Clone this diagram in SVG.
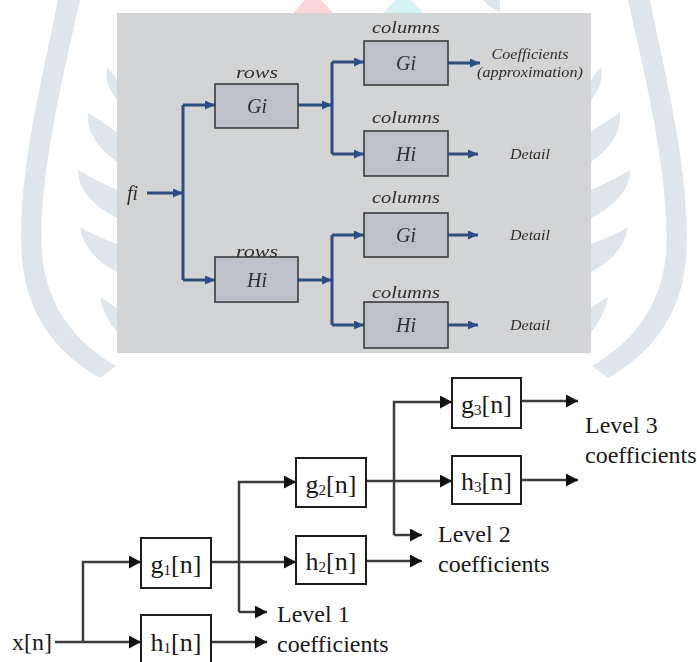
<svg xmlns="http://www.w3.org/2000/svg" width="697" height="662" viewBox="0 0 697 662">
<defs>
<style>
.wm{fill:#dfe6eb}
.panel{fill:#d3d4d6}
.tb{fill:#bcc1ca;stroke:#3c3c3c;stroke-width:1.6}
.tl{fill:none;stroke:#2c4d82;stroke-width:3}
.ti{font-family:'Liberation Serif','Times New Roman',serif;font-style:italic;fill:#2e2e2e}
.bb{fill:#fff;stroke:#1e1e1e;stroke-width:2}
.bl{fill:none;stroke:#3c3c3c;stroke-width:2.5}
.bt{font-family:'Liberation Serif','Times New Roman',serif;font-size:26px;fill:#1a1a1a}
.lt{font-family:'Liberation Serif','Times New Roman',serif;font-size:24px;fill:#1a1a1a}
</style>
<marker id="ab" markerUnits="userSpaceOnUse" viewBox="0 0 12 13" refX="12" refY="6.5" markerWidth="12" markerHeight="13" orient="auto"><path d="M0,0 L12,6.5 L0,13 Z" fill="#111"/></marker>
<marker id="at" markerUnits="userSpaceOnUse" viewBox="0 0 10 9" refX="10" refY="4.5" markerWidth="10" markerHeight="9" orient="auto"><path d="M0,0 L10,4.5 L0,9 Z" fill="#2c4d82"/></marker>
<filter id="soft" x="-5%" y="-5%" width="110%" height="110%"><feGaussianBlur stdDeviation="0.5"/></filter>
<g id="wmside">
<path class="wm" d="M58,0 C42,80 16,180 22,260 C28,320 60,355 100,378 L116,366 C80,345 46,310 42,252 C38,180 62,80 80,0 Z"/>
<path class="wm" d="M107,67 Q104,85 117,100 L117,80 Q112,72 107,67 Z"/>
<path class="wm" d="M88,113 Q86,140 117,162 L117,132 Q100,120 88,113 Z"/>
<path class="wm" d="M78,170 Q78,198 117,218 L117,190 Q95,180 78,170 Z"/>
<path class="wm" d="M80,227 Q84,255 117,272 L117,244 Q95,236 80,227 Z"/>
<path class="wm" d="M100,297 Q104,318 117,332 L117,308 Q108,302 100,297 Z"/>
</g>
</defs>

<g id="watermark">
<use href="#wmside"/>
<use href="#wmside" transform="translate(708,0) scale(-1,1)"/>
<polygon points="305,0 321,0 333,13 293,13" fill="#fbd6d9"/>
<polygon points="395,0 411,0 423,13 383,13" fill="#d6f4f7"/>
<path d="M483,0 L500,0 L500,12 Q490,8 483,0 Z" class="wm"/>
</g>

<g id="top-panel" filter="url(#soft)">
<rect class="panel" x="117" y="13" width="474" height="340"/>

<g id="top-connectors">
<path class="tl" d="M147,193 H183" marker-end="url(#at)"/>
<path class="tl" d="M183,105 V280"/>
<path class="tl" d="M183,105 H215" marker-end="url(#at)"/>
<path class="tl" d="M183,280 H215" marker-end="url(#at)"/>
<path class="tl" d="M298,105 H332" marker-end="url(#at)"/>
<path class="tl" d="M332,62 V154"/>
<path class="tl" d="M332,62 H364" marker-end="url(#at)"/>
<path class="tl" d="M332,154 H364" marker-end="url(#at)"/>
<path class="tl" d="M298,280 H332" marker-end="url(#at)"/>
<path class="tl" d="M332,235 V325"/>
<path class="tl" d="M332,235 H364" marker-end="url(#at)"/>
<path class="tl" d="M332,325 H364" marker-end="url(#at)"/>
<path class="tl" d="M448,63 H480" marker-end="url(#at)"/>
<path class="tl" d="M448,154 H478" marker-end="url(#at)"/>
<path class="tl" d="M448,235 H478" marker-end="url(#at)"/>
<path class="tl" d="M448,325 H478" marker-end="url(#at)"/>
</g>

<text class="ti" x="127" y="200" font-size="20">fi</text>

<g id="rows-gi">
<rect class="tb" x="215" y="84" width="83" height="44"/>
<text class="ti" x="257" y="78" font-size="17" text-anchor="middle" textLength="42" lengthAdjust="spacingAndGlyphs">rows</text>
<text class="ti" x="257" y="113" font-size="20" text-anchor="middle">Gi</text>
</g>
<g id="rows-hi">
<rect class="tb" x="215" y="257" width="83" height="45"/>
<text class="ti" x="257" y="257" font-size="17" text-anchor="middle" textLength="42" lengthAdjust="spacingAndGlyphs">rows</text>
<text class="ti" x="257" y="287" font-size="20" text-anchor="middle">Hi</text>
</g>
<g id="col-gi-1">
<rect class="tb" x="364" y="41" width="84" height="44"/>
<text class="ti" x="406" y="33" font-size="17" text-anchor="middle" textLength="68" lengthAdjust="spacingAndGlyphs">columns</text>
<text class="ti" x="406" y="70" font-size="20" text-anchor="middle">Gi</text>
</g>
<g id="col-hi-1">
<rect class="tb" x="364" y="131" width="84" height="45"/>
<text class="ti" x="406" y="123" font-size="17" text-anchor="middle" textLength="68" lengthAdjust="spacingAndGlyphs">columns</text>
<text class="ti" x="406" y="161" font-size="20" text-anchor="middle">Hi</text>
</g>
<g id="col-gi-2">
<rect class="tb" x="364" y="213" width="84" height="44"/>
<text class="ti" x="406" y="203" font-size="17" text-anchor="middle" textLength="68" lengthAdjust="spacingAndGlyphs">columns</text>
<text class="ti" x="406" y="242" font-size="20" text-anchor="middle">Gi</text>
</g>
<g id="col-hi-2">
<rect class="tb" x="364" y="302" width="84" height="46"/>
<text class="ti" x="406" y="298" font-size="17" text-anchor="middle" textLength="68" lengthAdjust="spacingAndGlyphs">columns</text>
<text class="ti" x="406" y="332" font-size="20" text-anchor="middle">Hi</text>
</g>

<text class="ti" x="530" y="59" font-size="14" text-anchor="middle" textLength="77" lengthAdjust="spacingAndGlyphs">Coefficients</text>
<text class="ti" x="530" y="77" font-size="14" text-anchor="middle" textLength="106" lengthAdjust="spacingAndGlyphs">(approximation)</text>
<text class="ti" x="530" y="159" font-size="14" text-anchor="middle" textLength="40" lengthAdjust="spacingAndGlyphs">Detail</text>
<text class="ti" x="530" y="240" font-size="14" text-anchor="middle" textLength="40" lengthAdjust="spacingAndGlyphs">Detail</text>
<text class="ti" x="530" y="330" font-size="14" text-anchor="middle" textLength="40" lengthAdjust="spacingAndGlyphs">Detail</text>
</g>

<g id="connectors">
<path class="bl" d="M55,642 H141" marker-end="url(#ab)"/>
<path class="bl" d="M83,642 V562 H141" marker-end="url(#ab)"/>
<path class="bl" d="M211,562 H296" marker-end="url(#ab)"/>
<path class="bl" d="M239,612 V482 H296" marker-end="url(#ab)"/>
<path class="bl" d="M239,612 H267" marker-end="url(#ab)"/>
<path class="bl" d="M211,642 H267" marker-end="url(#ab)"/>
<path class="bl" d="M366,481 H452" marker-end="url(#ab)"/>
<path class="bl" d="M394,535 V402 H452" marker-end="url(#ab)"/>
<path class="bl" d="M394,535 H422" marker-end="url(#ab)"/>
<path class="bl" d="M366,561 H422" marker-end="url(#ab)"/>
<path class="bl" d="M521,401 H578" marker-end="url(#ab)"/>
<path class="bl" d="M521,480 H578" marker-end="url(#ab)"/>
</g>

<text class="lt" x="12" y="650">x[n]</text>

<g id="g1">
<rect class="bb" x="141" y="538" width="70" height="50"/>
<text class="bt" x="176" y="573" text-anchor="middle">g<tspan font-size="15" dy="2">1</tspan><tspan dy="-2">[n]</tspan></text>
</g>
<g id="h1">
<rect class="bb" x="141" y="615" width="70" height="52"/>
<text class="bt" x="176" y="651" text-anchor="middle">h<tspan font-size="15" dy="2">1</tspan><tspan dy="-2">[n]</tspan></text>
</g>
<g id="g2">
<rect class="bb" x="296" y="458" width="70" height="49"/>
<text class="bt" x="331" y="493" text-anchor="middle">g<tspan font-size="15" dy="2">2</tspan><tspan dy="-2">[n]</tspan></text>
</g>
<g id="h2">
<rect class="bb" x="296" y="536" width="70" height="48"/>
<text class="bt" x="331" y="570" text-anchor="middle">h<tspan font-size="15" dy="2">2</tspan><tspan dy="-2">[n]</tspan></text>
</g>
<g id="g3">
<rect class="bb" x="452" y="378" width="69" height="50"/>
<text class="bt" x="486.5" y="413" text-anchor="middle">g<tspan font-size="15" dy="2">3</tspan><tspan dy="-2">[n]</tspan></text>
</g>
<g id="h3">
<rect class="bb" x="452" y="456" width="69" height="48"/>
<text class="bt" x="486.5" y="490" text-anchor="middle">h<tspan font-size="15" dy="2">3</tspan><tspan dy="-2">[n]</tspan></text>
</g>

<g id="labels">
<text class="lt" x="277" y="622">Level 1</text>
<text class="lt" x="277" y="652">coefficients</text>
<text class="lt" x="438" y="542">Level 2</text>
<text class="lt" x="438" y="572">coefficients</text>
<text class="lt" x="585" y="433">Level 3</text>
<text class="lt" x="585" y="463">coefficients</text>
</g>
</svg>
